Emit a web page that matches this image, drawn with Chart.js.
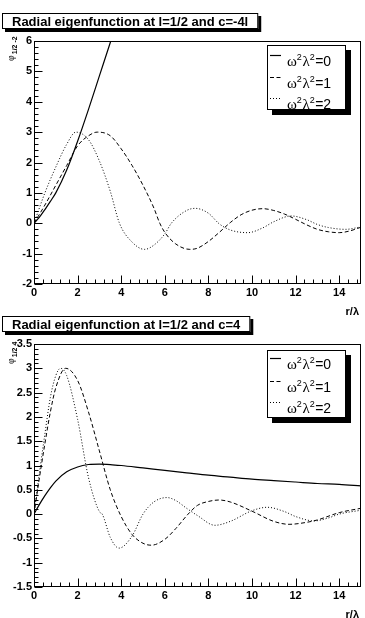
<!DOCTYPE html>
<html><head><meta charset="utf-8">
<script src="https://cdn.jsdelivr.net/npm/chart.js@4/dist/chart.umd.min.js"></script>
<style>
html,body{margin:0;padding:0;background:#fff;}
#wrap{position:relative;width:365px;height:618px;overflow:hidden;background:#fff;}
canvas{position:absolute;left:0;top:0;}
</style></head><body>
<div id="wrap">
<div style="position:absolute;left:0;top:0;width:365px;height:320px;"><canvas id="c1" width="365" height="320"></canvas></div>
<div style="position:absolute;left:0;top:303px;width:365px;height:315px;"><canvas id="c2" width="365" height="315"></canvas></div>
</div>
<script>
// ---------- data ----------
const seriesLabels = ['0', '1', '2'];

// top panel: l=1/2, c=-4l
const topX_w0 = [0,0.25,0.5,0.75,1,1.5,2,2.5,3,3.5,3.8];
const topY_w0 = [0,0.2,0.45,0.72,1.0,1.75,2.7,3.75,4.85,5.95,6.6];
const topX_w1 = [0,0.5,1,1.5,2,2.5,2.9,3.5,4,4.5,5,5.5,5.77,6,6.5,7.15,7.5,8,8.5,9,9.5,10,10.5,11,11.5,12,12.5,13,13.5,14,14.5,15];
const topY_w1 = [0,0.6,1.25,1.9,2.55,2.88,3.0,2.88,2.45,1.9,1.25,0.5,0,-0.3,-0.68,-0.86,-0.82,-0.6,-0.3,0.02,0.28,0.43,0.48,0.42,0.3,0.13,-0.05,-0.2,-0.28,-0.31,-0.25,-0.13];
const topX_w2 = [0,0.5,1,1.5,1.92,2.5,3,3.5,3.92,4.5,5.07,5.5,6,6.3,7,7.4,8,8.5,9,9.8,10.5,11,11.8,12.5,13,13.5,14.3,15];
const topY_w2 = [0,1.0,1.85,2.6,3.0,2.75,2.05,1.05,0,-0.62,-0.86,-0.72,-0.35,0,0.42,0.49,0.33,-0.02,-0.22,-0.31,-0.15,0.05,0.24,0.12,-0.04,-0.14,-0.2,-0.12];

// bottom panel: l=1/2, c=4
const botX_w0 = [0,0.25,0.5,0.75,1,1.5,2,2.5,3,3.5,4,5,6,7,8,9,10,11,12,13,14,15];
const botY_w0 = [0,0.2,0.38,0.54,0.68,0.87,0.97,1.02,1.03,1.02,1.0,0.95,0.9,0.85,0.8,0.76,0.72,0.69,0.66,0.63,0.61,0.58];
const botX_w1 = [0,0.25,0.5,0.75,1,1.45,2,2.5,3,3.5,4,4.5,5,5.38,6,6.5,7.07,7.5,8,8.5,9,10,11,11.7,12.5,13,14,15];
const botY_w1 = [0,0.75,1.45,2.1,2.6,3.0,2.75,2.1,1.3,0.5,-0.05,-0.42,-0.6,-0.64,-0.52,-0.3,0,0.18,0.26,0.29,0.25,0.06,-0.15,-0.21,-0.17,-0.12,0.03,0.12];
const botX_w2 = [0,0.25,0.5,0.75,1,1.22,1.5,2,2.5,3,3.13,3.5,3.9,4.5,5,5.5,6.1,6.5,7,7.5,8.3,9,10,10.7,11.5,12,12.85,13.5,14,15];
const botY_w2 = [0,0.85,1.65,2.4,2.85,3.0,2.85,1.95,0.75,0.05,0,-0.48,-0.7,-0.45,0,0.25,0.34,0.28,0.12,-0.03,-0.23,-0.15,0.07,0.14,0.05,-0.05,-0.14,-0.08,0.0,0.08];

const xTickStep = 2;
const topYRange = [-2, 6], topYStep = 1;
const botYRange = [-1.5, 3.5], botYStep = 0.5;
const topTitle = 'Radial eigenfunction at l=1/2 and c=-4l';
const botTitle = 'Radial eigenfunction at l=1/2 and c=4';
const topYSub = '1/2 -2';
const botYSub = '1/2 4';
const xTitle = 'r/λ';

// ---------- styles ----------
const styles = [
  {borderDash: [], borderWidth: 1.2, borderColor: '#000'},
  {borderDash: [4, 2.5], borderWidth: 1, borderColor: '#000'},
  {borderDash: [1, 2], borderWidth: 1, borderColor: '#000'}
];
const pts = (xs, ys) => xs.map((x, i) => ({x: x, y: ys[i]}));
const fmt = v => String(Math.round(v * 100) / 100);

function drawOmegaLabel(ctx, x, y, val) {
  ctx.fillStyle = '#000';
  ctx.textBaseline = 'alphabetic';
  ctx.textAlign = 'left';
  ctx.font = '15px "Liberation Serif"';
  ctx.fillText('ω', x, y); x += ctx.measureText('ω').width;
  ctx.font = '9px "Liberation Sans"';
  ctx.fillText('2', x, y - 6); x += ctx.measureText('2').width + 0.5;
  ctx.font = '15px "Liberation Serif"';
  ctx.fillText('λ', x, y); x += ctx.measureText('λ').width;
  ctx.font = '9px "Liberation Sans"';
  ctx.fillText('2', x, y - 6); x += ctx.measureText('2').width + 0.5;
  ctx.font = '14px "Liberation Sans"';
  ctx.fillText('=' + val, x, y);
}

const decorPlugin = {
  id: 'decor',
  afterDraw(chart) {
    const o = chart.options.plugins.decor;
    const ctx = chart.ctx;
    const a = chart.chartArea;
    const xs = chart.scales.x, ys = chart.scales.y;
    ctx.save();
    // frame
    ctx.strokeStyle = '#000';
    ctx.lineWidth = 1;
    ctx.setLineDash([]);
    const L = Math.round(a.left) + 0.5, T = Math.round(a.top) + 0.5,
          R = Math.round(a.right) - 0.5, B = Math.round(a.bottom) - 0.5;
    ctx.strokeRect(L, T, R - L, B - T);
    // x ticks (inside)
    ctx.beginPath();
    for (let i = 0; i <= 15 / 0.4 + 0.01; i++) {
      const v = i * 0.4;
      if (v > 15.0001) break;
      const major = Math.abs(v / 2 - Math.round(v / 2)) < 1e-6;
      const px = Math.round(xs.getPixelForValue(v)) + 0.5;
      ctx.moveTo(px, B);
      ctx.lineTo(px, B - (major ? 8 : 4));
    }
    // y ticks
    const [ymin, ymax] = o.yRange;
    const minor = o.yStep / 5;
    const n = Math.round((ymax - ymin) / minor);
    for (let i = 0; i <= n; i++) {
      const v = ymin + i * minor;
      const major = i % 5 === 0;
      const py = Math.round(ys.getPixelForValue(v)) + 0.5;
      ctx.moveTo(L, py);
      ctx.lineTo(L + (major ? 8 : 4), py);
    }
    ctx.stroke();

    // x title
    ctx.fillStyle = '#000';
    ctx.font = 'bold 11px "Liberation Sans"';
    ctx.textAlign = 'right';
    ctx.textBaseline = 'alphabetic';
    ctx.fillText(xTitle, 359, a.bottom + 31);

    // y title (rotated)
    ctx.save();
    ctx.translate(13.5, 61);
    ctx.rotate(-Math.PI / 2);
    ctx.textAlign = 'left';
    ctx.font = '10px "Liberation Serif"';
    ctx.fillText('φ', 0, 0);
    const pw = ctx.measureText('φ').width;
    ctx.font = 'bold 7px "Liberation Sans"';
    ctx.fillText(o.ySub, pw + 1, 3.5);
    ctx.restore();

    // title box
    ctx.font = 'bold 13px "Liberation Sans"';
    const tw = ctx.measureText(o.title).width;
    const bx = 2, by = 13, bw = tw + 20, bh = 16;
    ctx.fillStyle = '#000';
    ctx.fillRect(bx + 3, by + 3, bw, bh);
    ctx.fillStyle = '#fff';
    ctx.fillRect(bx, by, bw, bh);
    ctx.strokeStyle = '#000';
    ctx.strokeRect(bx + 0.5, by + 0.5, bw - 1, bh - 1);
    ctx.fillStyle = '#000';
    ctx.textAlign = 'left';
    ctx.fillText(o.title, 12, by + 12.5);

    // legend
    const lg = o.legend;
    ctx.fillStyle = '#000';
    ctx.fillRect(lg.x + 5, lg.y + 5, lg.w, lg.h);
    ctx.fillStyle = '#fff';
    ctx.fillRect(lg.x, lg.y, lg.w, lg.h);
    ctx.strokeStyle = '#000';
    ctx.lineWidth = 1;
    ctx.strokeRect(lg.x + 0.5, lg.y + 0.5, lg.w - 1, lg.h - 1);
    ctx.beginPath();
    ctx.rect(lg.x, lg.y, lg.w, lg.h);
    ctx.clip();
    chart.data.datasets.forEach((ds, i) => {
      const ly = lg.y + lg.rows[i];
      ctx.save();
      ctx.strokeStyle = ds.borderColor;
      ctx.lineWidth = ds.borderWidth;
      ctx.setLineDash(ds.borderDash);
      ctx.beginPath();
      ctx.moveTo(lg.x + 3, ly + 0.5);
      ctx.lineTo(lg.x + 14, ly + 0.5);
      ctx.stroke();
      ctx.restore();
      drawOmegaLabel(ctx, lg.x + 20, ly + 11, seriesLabels[i]);
    });
    ctx.restore();
  }
};

function makeChart(id, canvasH, xsArr, ysArr, yRange, yStep, title, ySub, legend) {
  const datasets = xsArr.map((xs, i) => Object.assign({
    label: 'ω²λ²=' + seriesLabels[i],
    data: pts(xs, ysArr[i]),
    pointRadius: 0,
    fill: false,
    tension: 0.4,
    cubicInterpolationMode: 'monotone'
  }, styles[i]));
  const xH = 20;
  return new Chart(document.getElementById(id), {
    type: 'line',
    data: {datasets},
    options: {
      responsive: false,
      animation: false,
      devicePixelRatio: 1,
      layout: {padding: {left: 0, top: 41, right: 4, bottom: canvasH - 284 - xH}},
      plugins: {
        legend: {display: false},
        tooltip: {enabled: false},
        title: {display: false},
        decor: {yRange, yStep, title, ySub, legend}
      },
      scales: {
        x: {
          type: 'linear', min: 0, max: 15,
          ticks: {stepSize: xTickStep, includeBounds: false, autoSkip: false, maxRotation: 0,
                  color: '#000', padding: 2, callback: fmt,
                  font: {family: 'Liberation Sans', weight: 'bold', size: 11}},
          grid: {display: false, drawTicks: false},
          border: {display: false},
          afterFit(s) { s.height = xH; }
        },
        y: {
          type: 'linear', min: yRange[0], max: yRange[1],
          ticks: {stepSize: yStep, includeBounds: false, autoSkip: false,
                  color: '#000', padding: 2, callback: fmt,
                  font: {family: 'Liberation Sans', weight: 'bold', size: 11}},
          grid: {display: false, drawTicks: false},
          border: {display: false},
          afterFit(s) { s.width = 34; }
        }
      }
    },
    plugins: [decorPlugin]
  });
}

makeChart('c1', 320, [topX_w0, topX_w1, topX_w2], [topY_w0, topY_w1, topY_w2],
  topYRange, topYStep, topTitle, topYSub,
  {x: 267, y: 45, w: 79, h: 65, rows: [10, 32, 53]});
makeChart('c2', 315, [botX_w0, botX_w1, botX_w2], [botY_w0, botY_w1, botY_w2],
  botYRange, botYStep, botTitle, botYSub,
  {x: 267, y: 47, w: 79, h: 68, rows: [8, 31, 52]});
</script>
</body></html>
